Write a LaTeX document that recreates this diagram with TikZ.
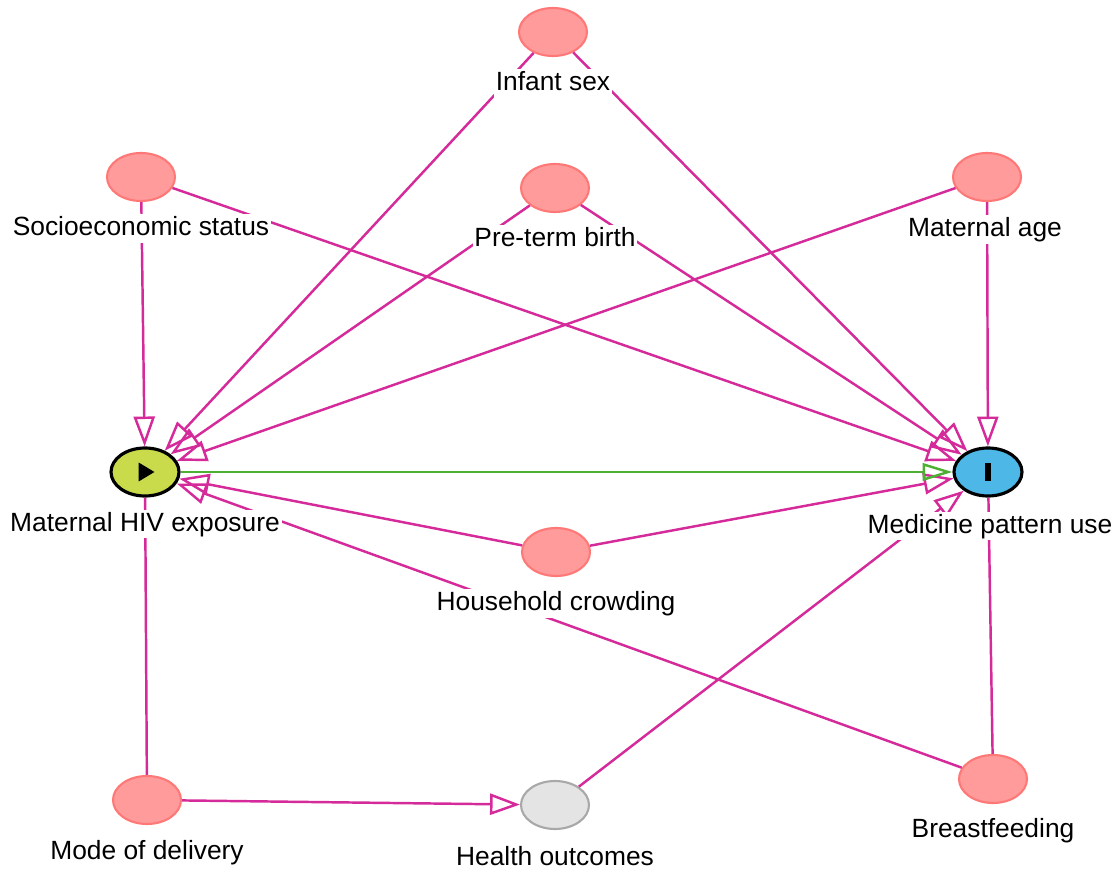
\documentclass[tikz,border=0pt]{standalone}
\usepackage{fontspec}
\setmainfont{Liberation Sans}
\usepackage{xcolor}
\usepackage{tikz}
\usetikzlibrary{positioning, shapes.geometric, arrows.meta}
\definecolor{edgepink}{HTML}{D42A9A}
\definecolor{nodepink}{HTML}{FF9B9B}
\definecolor{nodepinkline}{HTML}{FF7878}
\definecolor{expofill}{HTML}{C9DB4B}
\definecolor{outcfill}{HTML}{4DB8E8}
\definecolor{causalgreen}{HTML}{4DB033}
\definecolor{latentfill}{HTML}{E4E4E4}
\definecolor{latentline}{HTML}{A8A8A8}

\tikzset{
    var/.style={ellipse, minimum width=1.36cm, minimum height=0.96cm, inner sep=0pt, line width=1.2pt},
    anc/.style={var, fill=nodepink, draw=nodepinkline},
    latent/.style={var, fill=latentfill, draw=latentline},
    expo/.style={var, fill=expofill, draw=black, line width=1.8pt,
        path picture={\fill[black] ([xshift=-3.6pt,yshift=5.4pt]path picture bounding box.center) -- ++(0,-10.8pt) -- ++(9pt,5.4pt) -- cycle;}},
    outc/.style={var, fill=outcfill, draw=black, line width=1.8pt,
        path picture={\fill[black] ([xshift=-1.9pt,yshift=-5pt]path picture bounding box.center) rectangle ++(3.8pt,10pt);}},
    lbl/.style={fill=white, inner sep=1pt, text height=11pt, text depth=3pt, font=\fontsize{15}{18}\selectfont},
    edge/.style={draw=edgepink, line width=1.4pt},
    arr/.style={edge, -{Triangle[open, length=17pt, width=12pt]}},
    causal/.style={draw=causalgreen, line width=1.4pt, -{Triangle[open, length=17pt, width=10pt]}}
}

\begin{document}
\begin{tikzpicture}
    \useasboundingbox (0,0) rectangle (22.36,-17.44);

    %Nodes
    \node[anc] at (11.06,-0.64) (sex) {};
    \node[anc] at (2.82,-3.54) (ses) {};
    \node[anc] at (11.10,-3.76) (preterm) {};
    \node[anc] at (19.74,-3.54) (age) {};
    \node[expo] at (2.90,-9.44) (hiv) {};
    \node[outc] at (19.76,-9.44) (medicine) {};
    \node[anc] at (11.12,-11.04) (crowding) {};
    \node[anc] at (2.94,-16.00) (delivery) {};
    \node[latent] at (11.10,-16.10) (health) {};
    \node[anc] at (19.86,-15.58) (breast) {};

    %Lines
    \draw[arr] (sex) -- (hiv);
    \draw[arr] (sex) -- (medicine);
    \draw[arr] (ses) -- (hiv);
    \draw[arr] (ses) -- (medicine);
    \draw[arr] (preterm) -- (hiv);
    \draw[arr] (preterm) -- (medicine);
    \draw[arr] (age) -- (hiv);
    \draw[arr] (age) -- (medicine);
    \draw[arr] (crowding) -- (hiv);
    \draw[arr] (crowding) -- (medicine);
    \draw[arr] (breast) -- (hiv);
    \draw[edge] (breast) -- (medicine);
    \draw[edge] (hiv) -- (delivery);
    \draw[arr] (delivery) -- (health);
    \draw[arr] (health) -- (medicine);
    \draw[causal] (hiv) -- (medicine);

    %Labels
    \node[lbl, below=0.24cm of sex] (sex-l) {Infant sex};
    \node[lbl, below=0.24cm of ses] (ses-l) {Socioeconomic status};
    \node[lbl, below=0.24cm of preterm] (preterm-l) {Pre-term birth};
    \node[lbl, below=0.26cm of age, xshift=-0.04cm] (age-l) {Maternal age};
    \node[lbl, below=0.24cm of hiv] (hiv-l) {Maternal HIV exposure};
    \node[lbl, below=0.28cm of medicine, xshift=0.04cm] (medicine-l) {Medicine pattern use};
    \node[lbl, below=0.24cm of crowding] (crowding-l) {Household crowding};
    \node[lbl, below=0.26cm of delivery] (delivery-l) {Mode of delivery};
    \node[lbl, below=0.28cm of health] (health-l) {Health outcomes};
    \node[lbl, below=0.24cm of breast] (breast-l) {Breastfeeding};
\end{tikzpicture}
\end{document}
